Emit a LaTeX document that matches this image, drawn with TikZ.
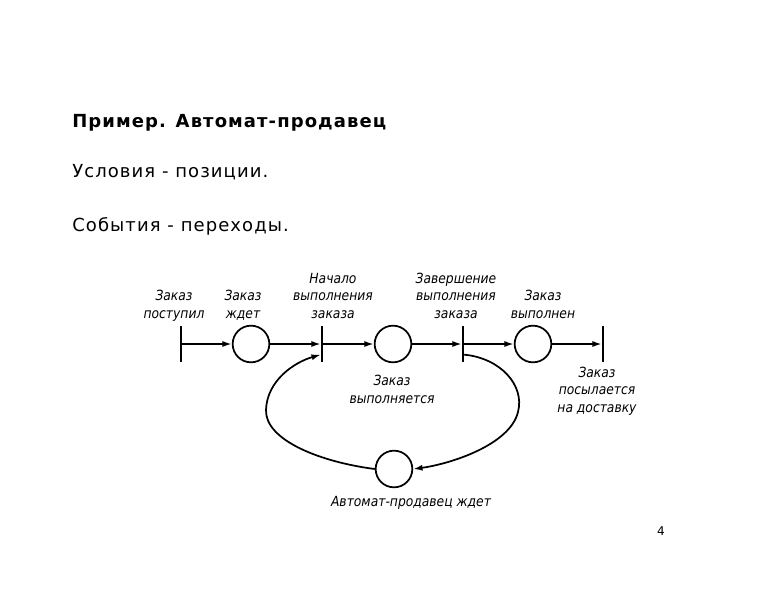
\documentclass[tikz,border=0pt]{standalone}
\usepackage{fontspec}
\setmainfont{DejaVu Sans}[LetterSpace=6]
\newfontfamily\handfont{DejaVu Sans}[FakeStretch=0.88]
\usetikzlibrary{arrows.meta}

\begin{document}
\begin{tikzpicture}[x=0.75pt,y=-0.75pt,
	place/.style={draw,circle,line width=1.3pt,minimum size=27.5pt,inner sep=0pt},
	trans/.style={rectangle,fill=black,minimum width=1.4pt,minimum height=27.5pt,inner sep=0pt},
	arc/.style={line width=1.3pt,-{Latex[length=7pt,width=4.5pt]}},
	lbl/.style={font=\handfont\itshape\fontsize{10.5}{12.8}\selectfont,align=center,inner sep=0pt,anchor=base},
	txt/.style={anchor=base west,inner sep=0pt,font=\fontsize{13.5}{16}\selectfont}]
	\useasboundingbox (0,0) rectangle (782,604);

	\node[txt,font=\bfseries\fontsize{13.5}{16}\selectfont] (title) at (72,127) {Пример. Автомат-продавец};
	\node[txt] (cond) at (72,177) {Условия - позиции.};
	\node[txt] (event) at (72,231) {События - переходы.};
	\node[anchor=base,inner sep=0pt,font=\fontsize{9}{11}\selectfont] (page) at (661,535) {4};

	\node[trans] (t1) at (181,344) {};
	\node[place] (p1) at (251,344) {};
	\node[trans] (t2) at (322,344) {};
	\node[place] (p2) at (393,344) {};
	\node[trans] (t3) at (463,344) {};
	\node[place] (p3) at (533,344) {};
	\node[trans] (t4) at (603,344) {};
	\node[place] (p4) at (394,469) {};

	\node[lbl] (l1) at (174,318) {Заказ\\поступил};
	\node[lbl] (l2) at (243,318) {Заказ\\ждет};
	\node[lbl] (l3) at (333,318) {Начало\\выполнения\\заказа};
	\node[lbl] (l4) at (456,318) {Завершение\\выполнения\\заказа};
	\node[lbl] (l5) at (543,318) {Заказ\\выполнен};
	\node[lbl] (l6) at (597,412) {Заказ\\посылается\\на доставку};
	\node[lbl] (l7) at (392,403) {Заказ\\выполняется};
	\node[lbl] (l8) at (411,506) {Автомат-продавец ждет};

	\draw[arc] (t1) to (p1);
	\draw[arc] (p1) to (t2);
	\draw[arc] (t2) to (p2);
	\draw[arc] (p2) to (t3);
	\draw[arc] (t3) to (p3);
	\draw[arc] (p3) to (t4);
	\draw[arc] ([yshift=-8pt]t3.east) .. controls (500,358) and (525,385) .. (518,412)
		.. controls (510,445) and (450,464) .. (p4.east);
	\draw[arc] (p4.west) .. controls (320,462) and (265,440) .. (266,410)
		.. controls (267,380) and (295,362) .. ([yshift=-8pt]t2.west);
\end{tikzpicture}
\end{document}
